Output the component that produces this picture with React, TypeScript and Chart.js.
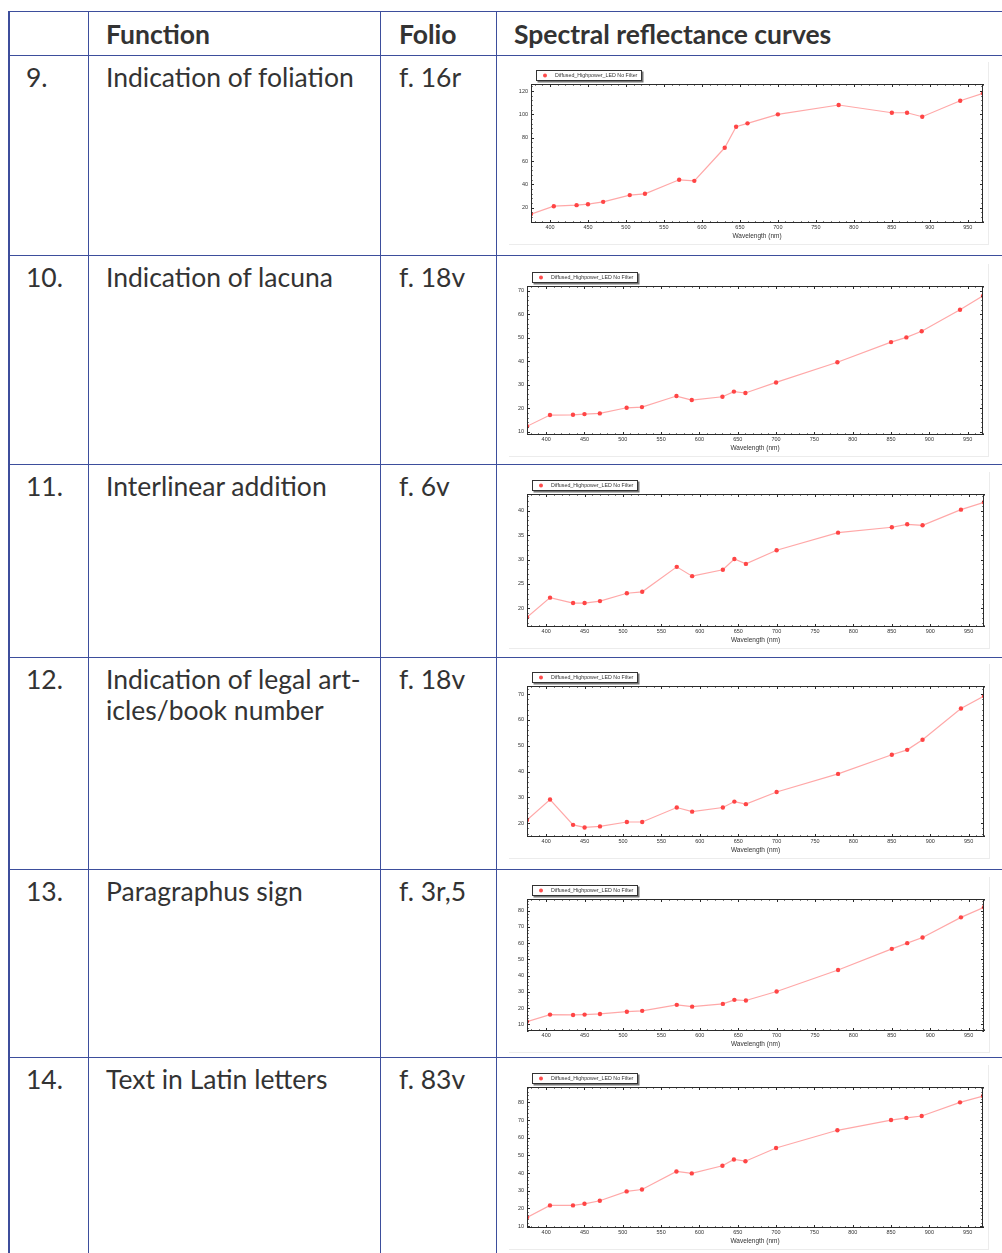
import React, { useEffect, useRef } from "react";
import { Chart, registerables } from "chart.js";

Chart.register(...registerables);

// ---------- data ----------
const wavelengths = [375, 405, 435, 450, 470, 505, 525, 570, 590, 630, 645, 660, 700, 780, 850, 870, 890, 940, 970];
const xTicks = [400, 450, 500, 550, 600, 650, 700, 750, 800, 850, 900, 950];
const seriesLabel = "Diffused_Highpower_LED No Filter";
const xTitle = "Wavelength (nm)";

const values9 = [14.6, 21.4, 22.3, 23.1, 25.1, 30.9, 32, 44, 43.1, 71.4, 89.4, 92.3, 100, 108, 101.4, 101.4, 98, 111.7, 118];
const values10 = [12.3, 17.1, 17.2, 17.5, 17.8, 20.2, 20.5, 25.2, 23.5, 24.9, 27.1, 26.5, 31, 39.6, 48.2, 50.2, 52.8, 62, 67.9];
const values11 = [18.2, 22.2, 21.1, 21.1, 21.5, 23.1, 23.4, 28.5, 26.6, 27.9, 30.1, 29.1, 31.9, 35.5, 36.6, 37.2, 37, 40.2, 41.7];
const values12 = [21.3, 29.2, 19.4, 18.4, 18.8, 20.5, 20.5, 26.1, 24.5, 26.1, 28.4, 27.4, 32.1, 39.1, 46.5, 48.4, 52.3, 64.4, 69.2];
const values13 = [11.7, 16, 15.8, 16, 16.4, 17.8, 18.3, 22, 20.9, 22.6, 25.1, 24.7, 30.2, 43.5, 56.5, 60, 63.5, 75.9, 82.1];
const values14 = [14.9, 21.7, 21.7, 22.6, 24.3, 29.6, 30.7, 40.9, 39.8, 44.1, 47.7, 46.7, 54.2, 64.2, 70, 71.2, 72.3, 80, 83.6];

const yTicks9 = [20, 40, 60, 80, 100, 120];
const yTicks10 = [10, 20, 30, 40, 50, 60, 70];
const yTicks11 = [20, 25, 30, 35, 40];
const yTicks12 = [20, 30, 40, 50, 60, 70];
const yTicks13 = [10, 20, 30, 40, 50, 60, 70, 80];
const yTicks14 = [10, 20, 30, 40, 50, 60, 70, 80];

const yMins = [7, 8.6, 16.2, 14.7, 5.9, 8.9];
const yMaxs = [126, 72.1, 43.4, 73.1, 87.2, 88.7];

const rowNumbers = ["9.", "10.", "11.", "12.", "13.", "14."];
const functionTexts = [
  ["Indication of foliation"],
  ["Indication of lacuna"],
  ["Interlinear addition"],
  ["Indication of legal art-", "icles/book number"],
  ["Paragraphus sign"],
  ["Text in Latin letters"],
];
const folios = ["f. 16r", "f. 18v", "f. 6v", "f. 18v", "f. 3r,5", "f. 83v"];
const headers = ["", "Function", "Folio", "Spectral reflectance curves"];

// ---------- layout (not data) ----------
const BORDER = "#3d4e9c";
const TEXT = "#333333";
const rowLines = [11, 55, 255, 464, 657, 869, 1057];
const colLines = [88, 380, 496];
const colTextX = [26, 106, 399, 514];
const plotRects = [
  { l: 531, t: 84, r: 983, b: 223 },
  { l: 527, t: 286, r: 983, b: 435 },
  { l: 527, t: 494, r: 984, b: 627 },
  { l: 527, t: 686, r: 984, b: 837 },
  { l: 527, t: 899, r: 984, b: 1031 },
  { l: 527, t: 1087, r: 983, b: 1228 },
];
const CANVAS_LEFT = 509;
const PAD_TOP = 22;
const PAD_RIGHT = 5;
const XAXIS_H = 21;

const framePlugin = {
  id: "frame",
  afterDraw(chart: any, _args: any, opts: any) {
    const { ctx, chartArea } = chart;
    const { left, top, right, bottom } = chartArea;
    const xs = chart.scales.x;
    const ys = chart.scales.y;
    ctx.save();
    ctx.strokeStyle = "#2b2b2b";
    ctx.lineWidth = 1;
    ctx.strokeRect(Math.round(left) + 0.5, Math.round(top) + 0.5, Math.round(right - left) - 1, Math.round(bottom - top) - 1);
    ctx.beginPath();
    const xMinor = opts.xMinor;
    for (let v = Math.ceil(xs.min / xMinor) * xMinor; v <= xs.max; v += xMinor) {
      const major = Math.abs(v % 50) < 1e-6;
      const len = major ? 3 : 1.6;
      const px = Math.round(xs.getPixelForValue(v)) + 0.5;
      ctx.moveTo(px, bottom);
      ctx.lineTo(px, bottom - len);
      ctx.moveTo(px, top);
      ctx.lineTo(px, top + len);
    }
    const yMinor = opts.yMinor;
    const yMajor = opts.yMajor;
    for (let v = Math.ceil(ys.min / yMinor) * yMinor; v <= ys.max; v += yMinor) {
      const r = v / yMajor;
      const major = Math.abs(r - Math.round(r)) < 1e-6;
      const len = major ? 3 : 1.6;
      const py = Math.round(ys.getPixelForValue(v)) + 0.5;
      ctx.moveTo(left, py);
      ctx.lineTo(left + len, py);
      ctx.moveTo(right, py);
      ctx.lineTo(right - len, py);
    }
    ctx.stroke();

    // legend box
    const lx = Math.round(left) + 5;
    const ly = Math.round(top) - 14;
    const lw = 106;
    const lh = 11;
    ctx.fillStyle = "#777";
    ctx.fillRect(lx + 1.5, ly + 1.5, lw, lh);
    ctx.fillStyle = "#fff";
    ctx.fillRect(lx, ly, lw, lh);
    ctx.strokeStyle = "#333";
    ctx.strokeRect(lx + 0.5, ly + 0.5, lw - 1, lh - 1);
    ctx.fillStyle = "#ff4d4d";
    ctx.beginPath();
    ctx.arc(lx + 9, ly + lh / 2, 2, 0, Math.PI * 2);
    ctx.fill();
    ctx.fillStyle = "#333";
    ctx.font = "5.3px 'Liberation Sans', Arial, sans-serif";
    ctx.textBaseline = "middle";
    ctx.textAlign = "left";
    ctx.fillText(chart.data.datasets[0].label, lx + 19, ly + lh / 2 + 0.5);
    ctx.restore();
  },
};

type ChartProps = {
  values: number[];
  yTicks: number[];
  yMin: number;
  yMax: number;
  rect: { l: number; t: number; r: number; b: number };
};

function SpectralChart({ values, yTicks, yMin, yMax, rect }: ChartProps) {
  const ref = useRef<HTMLCanvasElement>(null);
  const width = rect.r + PAD_RIGHT - CANVAS_LEFT;
  const height = rect.b - rect.t + PAD_TOP + XAXIS_H;
  const yAxisW = rect.l - CANVAS_LEFT;
  const yMajor = yTicks[1] - yTicks[0];

  useEffect(() => {
    const canvas = ref.current;
    if (!canvas) return;
    const tickFont = { size: 5.5, family: "'Liberation Sans', Arial, sans-serif" };
    const chart = new Chart(canvas, {
      type: "line",
      data: {
        datasets: [
          {
            label: seriesLabel,
            data: wavelengths.map((w, i) => ({ x: w, y: values[i] })),
            borderColor: "#ffa8a8",
            borderWidth: 1.2,
            pointRadius: 2.2,
            pointBackgroundColor: "#ff4545",
            pointBorderWidth: 0,
            pointBorderColor: "#ff4545",
            tension: 0,
            clip: 0,
          } as any,
        ],
      },
      options: {
        responsive: false,
        animation: false,
        events: [],
        layout: { padding: { left: 0, right: PAD_RIGHT, top: PAD_TOP, bottom: 0 } },
        plugins: {
          legend: { display: false },
          tooltip: { enabled: false },
          frame: { xMinor: 10, yMinor: yMajor / 5, yMajor },
        } as any,
        scales: {
          x: {
            type: "linear",
            min: 375,
            max: 970,
            grid: { display: false, drawTicks: false },
            border: { display: false },
            ticks: { font: tickFont, color: "#333", padding: 1.5, maxRotation: 0, autoSkip: false },
            afterBuildTicks: (s: any) => {
              s.ticks = xTicks.map((v) => ({ value: v }));
            },
            afterFit: (s: any) => {
              s.height = XAXIS_H;
            },
            title: {
              display: true,
              text: xTitle,
              color: "#333",
              font: { size: 6.5, family: "'Liberation Sans', Arial, sans-serif" },
              padding: { top: 0, bottom: 3.5 },
            },
          },
          y: {
            type: "linear",
            min: yMin,
            max: yMax,
            grid: { display: false, drawTicks: false },
            border: { display: false },
            ticks: { font: tickFont, color: "#333", padding: 3, autoSkip: false },
            afterBuildTicks: (s: any) => {
              s.ticks = yTicks.map((v) => ({ value: v }));
            },
            afterFit: (s: any) => {
              s.width = yAxisW;
            },
          },
        },
      } as any,
      plugins: [framePlugin],
    });
    return () => chart.destroy();
  }, []);

  return (
    <div
      style={{
        position: "absolute",
        left: CANVAS_LEFT,
        top: rect.t - PAD_TOP,
        width,
        height,
        borderRight: "1px solid #ececec",
        borderBottom: "1px solid #ececec",
        background: "#fff",
      }}
    >
      <canvas ref={ref} width={width} height={height} style={{ display: "block", width, height }} />
    </div>
  );
}

const chartValues = [values9, values10, values11, values12, values13, values14];
const chartTicks = [yTicks9, yTicks10, yTicks11, yTicks12, yTicks13, yTicks14];

export default function App() {
  const textStyle: React.CSSProperties = {
    position: "absolute",
    fontFamily: "Lato, 'Open Sans', sans-serif",
    fontSize: 26.5,
    lineHeight: "31px",
    color: TEXT,
    whiteSpace: "nowrap",
  };
  return (
    <div
      style={{
        position: "absolute",
        left: 0,
        top: 0,
        width: 1002,
        height: 1253,
        overflow: "hidden",
        background: "#fff",
      }}
    >
      {/* horizontal lines */}
      {rowLines.map((y, i) => (
        <div key={"h" + i} style={{ position: "absolute", left: 8, top: y, width: 1000, height: 1, background: BORDER }} />
      ))}
      {/* left outer border */}
      <div style={{ position: "absolute", left: 8, top: 11, width: 2, height: 1300, background: BORDER }} />
      {colLines.map((x, i) => (
        <div key={"v" + i} style={{ position: "absolute", left: x, top: 11, width: 1, height: 1300, background: BORDER }} />
      ))}
      {/* header */}
      {headers.map((h, i) =>
        h ? (
          <div key={"hd" + i} style={{ ...textStyle, left: colTextX[i], top: 18.5, fontWeight: 700 }}>
            {h}
          </div>
        ) : null
      )}
      {/* rows */}
      {rowNumbers.map((n, i) => {
        const top = rowLines[i + 1] + 6.5;
        return (
          <React.Fragment key={"r" + i}>
            <div style={{ ...textStyle, left: colTextX[0], top }}>{n}</div>
            <div style={{ ...textStyle, left: colTextX[1], top }}>
              {functionTexts[i].map((line, j) => (
                <div key={j}>{line}</div>
              ))}
            </div>
            <div style={{ ...textStyle, left: colTextX[2], top }}>{folios[i]}</div>
          </React.Fragment>
        );
      })}
      {/* charts */}
      {plotRects.map((rect, i) => (
        <SpectralChart
          key={"c" + i}
          values={chartValues[i]}
          yTicks={chartTicks[i]}
          yMin={yMins[i]}
          yMax={yMaxs[i]}
          rect={rect}
        />
      ))}
    </div>
  );
}
